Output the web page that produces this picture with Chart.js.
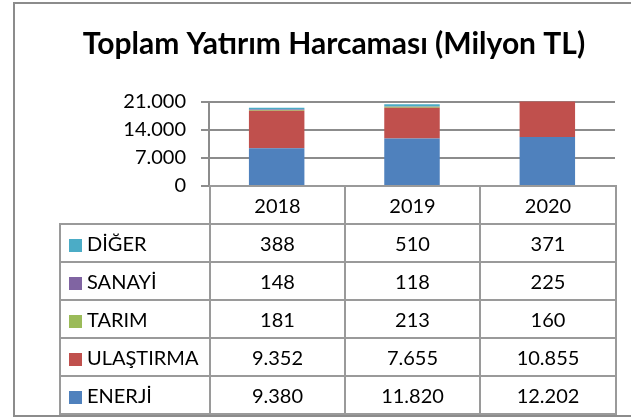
<!DOCTYPE html>
<html>
<head>
<meta charset="utf-8">
<script src="https://cdn.jsdelivr.net/npm/chart.js@4"></script>
<style>
  html, body { margin: 0; padding: 0; background: #fff; }
  #wrap { position: relative; width: 631px; height: 418px; overflow: hidden; }
  #frame {
    position: absolute; left: 13px; top: 2px; width: 700px; height: 411px;
    border: 2px solid #8c8c8c; border-right: none;
  }
  #chart { position: absolute; left: 0; top: 0; }
  #tbl {
    position: absolute; left: 59px; top: 185px;
    border-collapse: collapse; table-layout: fixed;
    font-family: Lato, sans-serif; font-size: 20px; color: #000;
  }
  #tbl td {
    border: 2px solid #9a9a9a; padding: 0; text-align: center;
    height: 36px; line-height: 20px; white-space: nowrap;
  }
  #tbl td.lbl { text-align: left; padding-left: 8px; }
  #tbl td.blank { border-top: none; border-left: none; }
  .sw { display: inline-block; width: 13px; height: 13px; margin-right: 5px; vertical-align: -1px; }
</style>
</head>
<body>
<div id="wrap">
  <div id="frame"></div>
  <canvas id="chart" width="631" height="213"></canvas>
  <table id="tbl">
    <colgroup><col style="width:150px"><col style="width:135px"><col style="width:135px"><col style="width:136px"></colgroup>
    <tbody id="tbody"></tbody>
  </table>
</div>
<script>
// veriler
const years = ['2018', '2019', '2020'];
const enerji = [9380, 11820, 12202];
const ulastirma = [9352, 7655, 10855];
const tarim = [181, 213, 160];
const sanayi = [148, 118, 225];
const diger = [388, 510, 371];
const yMax = 21000;
const yStep = 7000;

const colors = {
  enerji: '#4f81bd',
  ulastirma: '#c0504d',
  tarim: '#9bbb59',
  sanayi: '#8064a2',
  diger: '#4bacc6'
};

// Türkçe binlik ayırıcı: 21000 -> 21.000
function fmt(n) {
  return String(n).replace(/\B(?=(\d{3})+(?!\d))/g, '.');
}

// yığın sırası: alttan üste
const series = [
  { label: 'ENERJİ', data: enerji, color: colors.enerji },
  { label: 'ULAŞTIRMA', data: ulastirma, color: colors.ulastirma },
  { label: 'TARIM', data: tarim, color: colors.tarim },
  { label: 'SANAYİ', data: sanayi, color: colors.sanayi },
  { label: 'DİĞER', data: diger, color: colors.diger }
];

// veri tablosu (grafiğin altında)
function buildTable() {
  const tbody = document.getElementById('tbody');
  let html = '<tr><td class="blank"></td>' + years.map(y => '<td>' + y + '</td>').join('') + '</tr>';
  series.slice().reverse().forEach(s => {
    html += '<tr><td class="lbl"><span class="sw" style="background:' + s.color + '"></span>' + s.label + '</td>' +
      s.data.map(v => '<td>' + fmt(v) + '</td>').join('') + '</tr>';
  });
  tbody.innerHTML = html;
}

function drawChart() {
  const ctx = document.getElementById('chart').getContext('2d');
  new Chart(ctx, {
    type: 'bar',
    data: {
      labels: years,
      datasets: series.map(s => ({
        label: s.label,
        data: s.data,
        backgroundColor: s.color,
        barPercentage: 0.41,
        categoryPercentage: 1
      }))
    },
    options: {
      responsive: false,
      animation: false,
      layout: { padding: { left: 53, right: 16, top: 0, bottom: 0 } },
      plugins: {
        legend: { display: false },
        tooltip: { enabled: false },
        title: {
          display: true,
          text: 'Toplam Yatırım Harcaması (Milyon TL)',
          color: '#000',
          font: { family: 'Lato', size: 30, weight: 'bold' },
          padding: { top: 26, bottom: 39.6 }
        }
      },
      scales: {
        x: { stacked: true, display: false },
        y: {
          stacked: true,
          min: 0,
          max: yMax,
          afterFit: scale => { scale.width = 156; },
          ticks: {
            stepSize: yStep,
            color: '#000',
            padding: 15,
            font: { family: 'Lato', size: 20 },
            callback: v => fmt(v)
          },
          grid: { color: '#8c8c8c', lineWidth: 2, tickLength: 8 },
          border: { color: '#8c8c8c', width: 2 }
        }
      }
    }
  });
}

document.addEventListener('DOMContentLoaded', () => {
  buildTable();
  Promise.all([
    document.fonts.load('bold 30px Lato'),
    document.fonts.load('20px Lato')
  ]).then(drawChart, drawChart);
});
</script>
</body>
</html>
